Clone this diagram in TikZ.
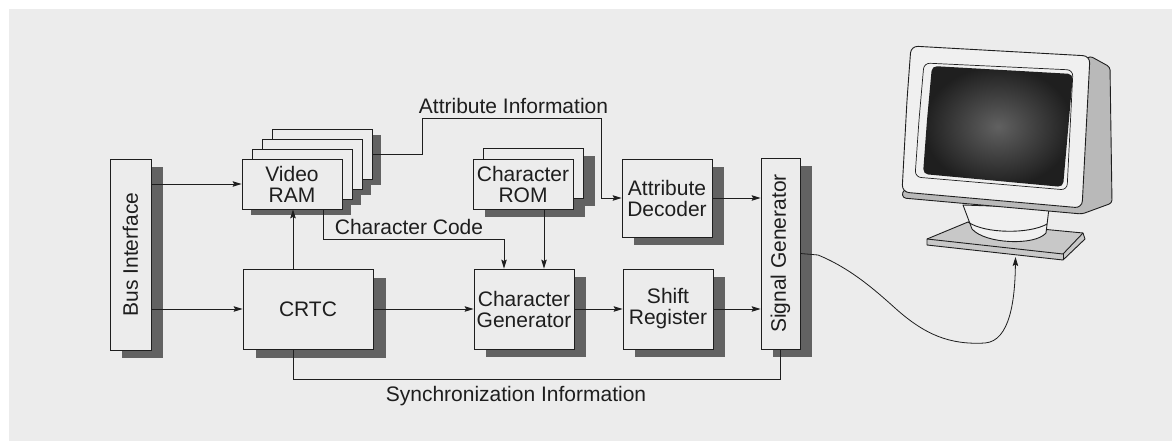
\documentclass[tikz,border=0pt]{standalone}
\usepackage{fontspec}
\setmainfont{Liberation Sans}
\usepackage{graphicx}
\usetikzlibrary{arrows.meta}

\definecolor{paperc}{RGB}{236,236,236}
\definecolor{shadec}{RGB}{98,98,98}
\definecolor{inkc}{RGB}{30,30,30}
\definecolor{bezelc}{RGB}{240,240,240}
\definecolor{sidec}{RGB}{185,185,185}
\definecolor{standc}{RGB}{200,200,200}

\pgfdeclarelayer{paper}
\pgfdeclarelayer{shade}
\pgfsetlayers{paper,shade,main}

% solid drop shadow behind a node: node name, x offset, y offset
\newcommand\dropshade[3]{%
  \begin{pgfonlayer}{shade}
    \fill[shadec] ([shift={(#2,#3)}]#1.north west) rectangle ([shift={(#2,#3)}]#1.south east);
  \end{pgfonlayer}}

\begin{document}
\begin{tikzpicture}[x=1pt,y=-1pt,
  font=\fontsize{21pt}{21pt}\selectfont,
  unit/.style={draw=inkc, fill=paperc, line width=0.8pt, inner sep=0pt, align=center, text=inkc},
  link/.style={draw=inkc, line width=0.8pt},
  arr/.style={link, -{Stealth[length=9pt,width=5.5pt,inset=1.5pt]}},
  lbl/.style={text=inkc, inner sep=0pt},
  mon/.style={draw=inkc, line width=0.9pt, line join=round},
]
\useasboundingbox (0,0) rectangle (1172,441);
\begin{pgfonlayer}{paper}
  \fill[white] (0,0) rectangle (1172,441);
  \fill[paperc] (9,9) rectangle (1172,441);
\end{pgfonlayer}

% ---- blocks ----
\node[unit, minimum width=41pt, minimum height=191pt] (bus) at (130.5,254.5) {\rotatebox{90}{Bus Interface}};

\node[unit, minimum width=100pt, minimum height=50pt] (vram3) at (322,154) {};
\node[unit, minimum width=100pt, minimum height=50pt] (vram2) at (312,164) {};
\node[unit, minimum width=100pt, minimum height=50pt] (vram1) at (302,174) {};
\node[unit, minimum width=100pt, minimum height=50pt] (vram) at (292,184) {Video\\RAM};

\node[unit, minimum width=130pt, minimum height=80pt] (crtc) at (308,309) {CRTC};

\node[unit, minimum width=100pt, minimum height=50pt] (cromb) at (533,173) {};
\node[unit, minimum width=100pt, minimum height=50pt] (crom) at (523,184) {Character\\ROM};

\node[unit, minimum width=90pt, minimum height=78pt] (attr) at (667,198) {Attribute\\Decoder};
\node[unit, minimum width=100pt, minimum height=80pt] (cgen) at (524,309) {Character\\Generator};
\node[unit, minimum width=90pt, minimum height=80pt] (shift) at (668,309) {Shift\\Register};
\node[unit, minimum width=39pt, minimum height=191pt] (sgen) at (780.5,253.5) {\rotatebox{90}{Signal Generator}};

\dropshade{bus}{12}{8}
\dropshade{vram3}{9}{6}
\dropshade{vram2}{9}{6}
\dropshade{vram1}{9}{6}
\dropshade{vram}{9}{6}
\dropshade{crtc}{13}{9}
\dropshade{cromb}{12}{8}
\dropshade{crom}{12}{8}
\dropshade{attr}{12}{8}
\dropshade{cgen}{12}{8}
\dropshade{shift}{12}{8}
\dropshade{sgen}{12}{8}

% ---- connectors ----
\draw[arr] (bus.east |- vram.west) -- (vram.west);
\draw[arr] (bus.east |- crtc.west) -- (crtc.west);
\draw[arr] ([xshift=-15pt]crtc.north) -- ([xshift=-15pt]crtc.north |- vram.south);
\draw[arr] (crtc.east) -- (cgen.west);
\draw[arr] (cgen.east) -- (shift.west);
\draw[arr] (shift.east) -- (shift.east -| sgen.west);
\draw[arr] (attr.east) -- (attr.east -| sgen.west);
\draw[arr] (vram3.east) -- ++(50,0) -- ++(0,-36) -| ([xshift=-20pt]attr.west) -- (attr.west);
\draw[arr] ([xshift=31pt]vram.south) -- ++(0,30) -| ([xshift=-20pt]cgen.north);
\draw[arr] ([xshift=21pt]crom.south) -- ([xshift=20pt]cgen.north);
\draw[link] ([xshift=-15pt]crtc.south) -- ++(0,30) -| (sgen.south);

\node[lbl] (attrlbl) at (513.5,106) {Attribute Information};
\node[lbl] (codelbl) at (409,227) {Character Code};
\node[lbl] (synclbl) at (516,396) {Synchronization Information};

% ---- monitor ----
% base plate
\filldraw[mon, fill=standc] (927,239) -- (968,222) -- (1083,233) -- (1085,239) -- (1063,260) -- (927,245) -- cycle;
\draw[mon] (927,239) -- (1063,254) -- (1083,233);
\draw[mon] (1063,254) -- (1063,260);
% neck
\filldraw[mon, fill=bezelc] (963,205) -- (972,229) .. controls (985,244) and (1035,246) .. (1046,233) -- (1049,208) -- cycle;
\draw[mon] (968,222) .. controls (985,234) and (1030,234) .. (1047,224);
% cabinet side and lower band
\filldraw[mon, fill=sidec, rounded corners=3pt] (1090,56) -- (1110,67) -- (1112,203) -- (1082,214) -- (903,198) -- (902,192) -- cycle;
% front bezel
\filldraw[mon, fill=bezelc, rounded corners=7pt] (907,100) -- (911,46) -- (1090,56) -- (1082,208) -- (902,192) -- cycle;
% inner frame and screen
\filldraw[mon, fill=bezelc, line width=0.7pt, rounded corners=6pt] (919,120) -- (924,63) -- (1073,70) -- (1067,190) -- (915,177) -- cycle;
\shade[inner color=black!62, outer color=black!88, rounded corners=5pt] (927,120) -- (932,66) -- (1073,74) -- (1063,187) -- (923,174) -- cycle;

\coordinate (monbase) at (1015.5,257);
\draw[arr] (sgen.east) -- (818,255) .. controls (850,268) and (875,290) .. (895,308)
  .. controls (925,335) and (950,345) .. (985,343)
  .. controls (1010,341) and (1015,300) .. (monbase);
\end{tikzpicture}
\end{document}
